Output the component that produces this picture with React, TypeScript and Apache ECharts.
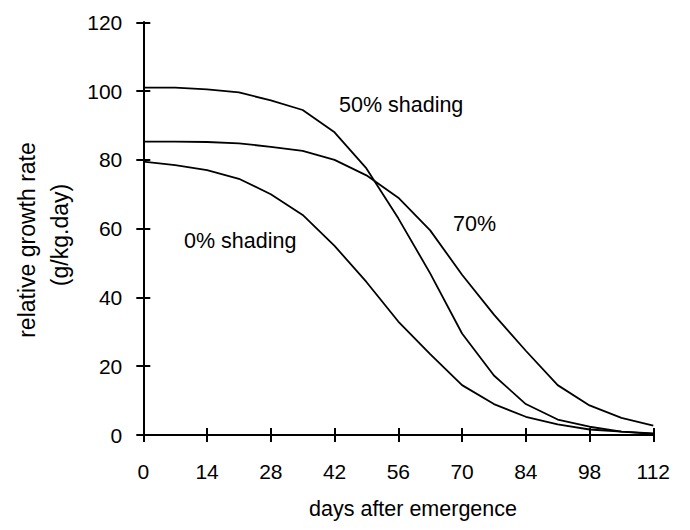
import React, { useEffect, useRef } from "react";
import * as echarts from "echarts";

const days = [0, 7, 14, 21, 28, 35, 42, 49, 56, 63, 70, 77, 84, 91, 98, 105, 112];
const shading0 = [79.5, 78.5, 77, 74.5, 70, 64, 55, 44.5, 33, 23.5, 14.5, 9, 5.3, 3.1, 1.6, 1, 0.5];
const shading50 = [101, 101, 100.5, 99.6, 97.3, 94.5, 88, 77.5, 63, 47, 29.5, 17.3, 9, 4.5, 2.4, 1, 0.3];
const shading70 = [85.3, 85.3, 85.2, 84.8, 83.8, 82.6, 80, 75.5, 69, 59.5, 46.6, 35, 24.5, 14.5, 8.6, 5, 2.7];
const xTicks = { min: 0, max: 112, interval: 14 };
const yTicks = { min: 0, max: 120, interval: 20 };
const labels = ["0% shading", "50% shading", "70%"];
const xTitle = "days after emergence";
const yTitle1 = "relative growth rate";
const yTitle2 = "(g/kg.day)";

const FONT = "'Liberation Sans', Arial, sans-serif";

const pairs = (ys: number[]) => days.map((d, i) => [d, ys[i]]);

export default function App() {
  const ref = useRef<HTMLDivElement>(null);
  useEffect(() => {
    document.body.style.margin = "0";
    if (!ref.current) return;
    const chart = echarts.init(ref.current, undefined, { renderer: "svg" });
    const axisLine = { show: true, onZero: false, lineStyle: { color: "#000", width: 2 } };
    const tick = (inside: boolean) => ({
      show: true,
      inside,
      length: 7,
      lineStyle: { color: "#000", width: 2 },
    });
    const lineSeries = (name: string, ys: number[]) => ({
      type: "line",
      name,
      data: pairs(ys),
      showSymbol: false,
      symbol: "none",
      lineStyle: { color: "#000", width: 1.8 },
      smooth: false,
    });
    chart.setOption({
      animation: false,
      backgroundColor: "#fff",
      textStyle: { fontFamily: FONT, color: "#000" },
      grid: { left: 143.3, right: 36.7, top: 22.3, bottom: 95, containLabel: false },
      xAxis: [
        {
          type: "value",
          ...xTicks,
          axisLine,
          axisTick: tick(false),
          splitLine: { show: false },
          axisLabel: { fontSize: 21, color: "#000", fontFamily: FONT, margin: 26 },
        },
        {
          type: "value",
          position: "bottom",
          ...xTicks,
          axisLine,
          axisTick: tick(true),
          splitLine: { show: false },
          axisLabel: { show: false },
        },
      ],
      yAxis: [
        {
          type: "value",
          ...yTicks,
          axisLine,
          axisTick: tick(false),
          splitLine: { show: false },
          axisLabel: { fontSize: 21, color: "#000", fontFamily: FONT, margin: 21 },
        },
        {
          type: "value",
          position: "left",
          ...yTicks,
          axisLine,
          axisTick: tick(true),
          splitLine: { show: false },
          axisLabel: { show: false },
        },
      ],
      series: [
        lineSeries(labels[0], shading0),
        lineSeries(labels[1], shading50),
        lineSeries(labels[2], shading70),
      ],
      graphic: [
        {
          type: "text",
          left: 339,
          top: 94,
          style: { text: labels[1], font: `21.5px ${FONT}`, fill: "#000" },
        },
        {
          type: "text",
          left: 453,
          top: 213,
          style: { text: labels[2], font: `21.5px ${FONT}`, fill: "#000" },
        },
        {
          type: "text",
          left: 184,
          top: 230,
          style: { text: labels[0], font: `21.5px ${FONT}`, fill: "#000" },
        },
        {
          type: "text",
          x: 413,
          y: 509,
          style: {
            text: xTitle,
            font: `21.5px ${FONT}`,
            fill: "#000",
            align: "center",
            verticalAlign: "middle",
          },
        },
        {
          type: "text",
          x: 27,
          y: 240,
          rotation: Math.PI / 2,
          style: {
            text: yTitle1,
            font: `23px ${FONT}`,
            fill: "#000",
            align: "center",
            verticalAlign: "middle",
          },
        },
        {
          type: "text",
          x: 60,
          y: 235,
          rotation: Math.PI / 2,
          style: {
            text: yTitle2,
            font: `23px ${FONT}`,
            fill: "#000",
            align: "center",
            verticalAlign: "middle",
          },
        },
      ],
    });
    return () => chart.dispose();
  }, []);
  return <div ref={ref} style={{ width: 690, height: 530 }} />;
}
